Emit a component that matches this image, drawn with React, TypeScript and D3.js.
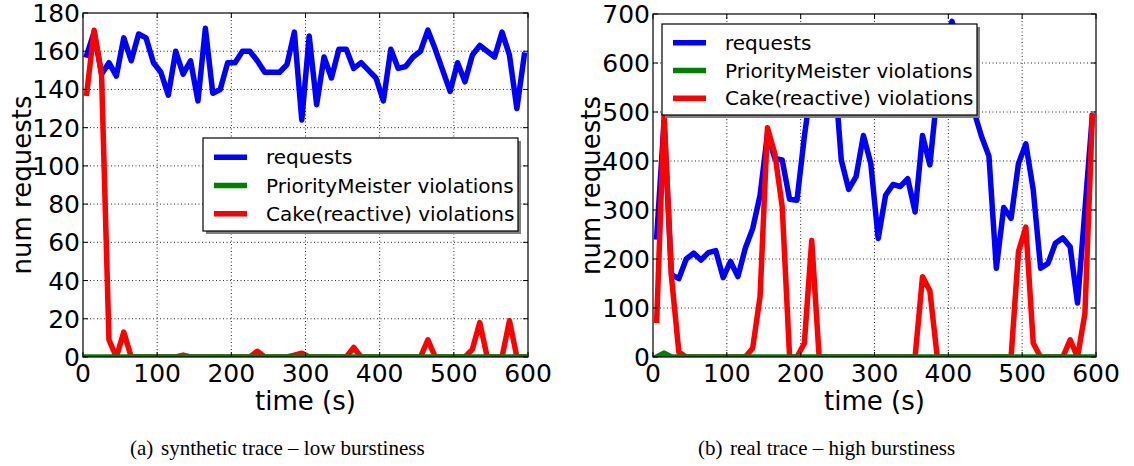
import React from 'react';
import * as d3 from 'd3';

// Sample times (s) shared by both traces
const TIME_S = [
  5, 15, 25, 35, 45, 55, 65, 75, 85, 95,
  105, 115, 125, 135, 145, 155, 165, 175, 185, 195,
  205, 215, 225, 235, 245, 255, 265, 275, 285, 295,
  305, 315, 325, 335, 345, 355, 365, 375, 385, 395,
  405, 415, 425, 435, 445, 455, 465, 475, 485, 495,
  505, 515, 525, 535, 545, 555, 565, 575, 585, 595,
];

const X_TICKS = [0, 100, 200, 300, 400, 500, 600];

// (a) synthetic trace
const syntheticRequests = [
  158, 170, 148, 154, 147, 167, 155, 169, 167, 154,
  149, 137, 160, 148, 155, 134, 172, 138, 140, 154,
  154, 160, 160, 155, 149, 149, 149, 153, 170, 124,
  168, 132, 157, 146, 161, 161, 151, 154, 150, 146,
  134, 161, 151, 152, 157, 160, 171, 161, 150, 139,
  154, 144, 158, 163, 160, 157, 170, 158, 130, 158,
];
const syntheticPriorityMeister = [
  0, 0, 0, 0, 0, 0, 0, 0, 0, 0,
  0, 0, 0, 0, 0, 0, 0, 0, 0, 0,
  0, 0, 0, 0, 0, 0, 0, 0, 0, 0,
  0, 0, 0, 0, 0, 0, 0, 0, 0, 0,
  0, 0, 0, 0, 0, 0, 0, 0, 0, 0,
  0, 0, 0, 0, 0, 0, 0, 0, 0, 0,
];
const syntheticCake = [
  138, 171, 148, 9, 0, 13, 0, 0, 0, 0,
  0, 0, 0, 1, 0, 0, 0, 0, 0, 0,
  0, 0, 0, 3, 0, 0, 0, 0, 1, 2,
  0, 0, 0, 0, 0, 0, 5, 0, 0, 0,
  0, 0, 0, 0, 0, 0, 9, 0, 0, 0,
  0, 0, 4, 18, 0, 0, 0, 19, 0, 0,
];
const SYNTHETIC_Y_TICKS = [0, 20, 40, 60, 80, 100, 120, 140, 160, 180];

// (b) real trace
const realRequests = [
  245, 480, 168, 160, 200, 212, 198, 213, 217, 162,
  195, 164, 222, 262, 330, 455, 405, 402, 322, 320,
  450, 560, 610, 620, 600, 402, 342, 368, 452, 395,
  242, 330, 352, 348, 364, 296, 452, 392, 540, 630,
  685, 620, 560, 500, 450, 410, 181, 305, 283, 395,
  435, 341, 181, 191, 232, 243, 225, 110, 300, 492,
];
const realPriorityMeister = [
  0, 8, 0, 0, 0, 0, 0, 0, 0, 0,
  0, 0, 0, 0, 0, 0, 0, 0, 0, 0,
  0, 0, 0, 0, 0, 0, 0, 0, 0, 0,
  0, 0, 0, 0, 0, 0, 0, 0, 0, 0,
  0, 0, 0, 0, 0, 0, 0, 0, 0, 0,
  0, 0, 0, 0, 0, 0, 0, 0, 0, 0,
];
const realCake = [
  75, 495, 164, 10, 0, 0, 0, 0, 0, 0,
  0, 0, 0, 18, 123, 468, 415, 307, 0, 0,
  28, 238, 0, 0, 0, 0, 0, 0, 0, 0,
  0, 0, 0, 0, 0, 0, 164, 135, 0, 0,
  0, 0, 0, 0, 0, 0, 0, 0, 0, 215,
  265, 28, 0, 0, 0, 0, 35, 0, 89, 490,
];
const REAL_Y_TICKS = [0, 100, 200, 300, 400, 500, 600, 700];

const SERIES_NAMES = ['requests', 'PriorityMeister violations', 'Cake(reactive) violations'];
const SERIES_COLORS = ['#0000ff', '#008000', '#ff0000'];

const FONT = '"DejaVu Sans", Verdana, sans-serif';
const SERIF = '"Liberation Serif", "Times New Roman", serif';

type PanelProps = {
  id: string;
  left: number;
  right: number;
  top: number;
  bottom: number;
  yTicks: number[];
  series: number[][];
  legend: { x: number; y: number; w: number; h: number };
  yLabelX: number;
  caption: { label: string; text: string; x: number; gap: number };
};

function Panel(p: PanelProps) {
  const x = d3.scaleLinear().domain([0, 600]).range([p.left, p.right]);
  const y = d3
    .scaleLinear()
    .domain([0, p.yTicks[p.yTicks.length - 1]])
    .range([p.bottom, p.top]);
  const line = d3
    .line<number>()
    .x((_, i) => x(TIME_S[i]))
    .y((v) => y(v));

  // draw order: requests, Cake, PriorityMeister
  const drawOrder = [0, 2, 1];
  const clipId = `clip-${p.id}`;
  const tickLen = 5;
  const rowH = (p.legend.h - 8) / 3;

  return (
    <g>
      <defs>
        <clipPath id={clipId}>
          <rect x={p.left} y={p.top} width={p.right - p.left} height={p.bottom - p.top} />
        </clipPath>
      </defs>
      {/* grid */}
      <g stroke="#000" strokeWidth={1} strokeDasharray="1,2.5" opacity={0.85}>
        {X_TICKS.slice(1, -1).map((t) => (
          <line key={`gx${t}`} x1={x(t)} x2={x(t)} y1={p.top} y2={p.bottom} />
        ))}
        {p.yTicks.slice(1, -1).map((t) => (
          <line key={`gy${t}`} x1={p.left} x2={p.right} y1={y(t)} y2={y(t)} />
        ))}
      </g>
      {/* series */}
      <g clipPath={`url(#${clipId})`}>
        {drawOrder.map((si) => (
          <path
            key={si}
            d={line(p.series[si]) || ''}
            fill="none"
            stroke={SERIES_COLORS[si]}
            strokeWidth={5.5}
            strokeLinejoin="round"
            strokeLinecap="square"
          />
        ))}
      </g>
      {/* frame */}
      <rect
        x={p.left}
        y={p.top}
        width={p.right - p.left}
        height={p.bottom - p.top}
        fill="none"
        stroke="#000"
        strokeWidth={1.2}
      />
      {/* inward ticks */}
      <g stroke="#000" strokeWidth={1}>
        {X_TICKS.map((t) => (
          <g key={`tx${t}`}>
            <line x1={x(t)} x2={x(t)} y1={p.bottom} y2={p.bottom - tickLen} />
            <line x1={x(t)} x2={x(t)} y1={p.top} y2={p.top + tickLen} />
          </g>
        ))}
        {p.yTicks.map((t) => (
          <g key={`ty${t}`}>
            <line x1={p.left} x2={p.left + tickLen} y1={y(t)} y2={y(t)} />
            <line x1={p.right} x2={p.right - tickLen} y1={y(t)} y2={y(t)} />
          </g>
        ))}
      </g>
      {/* tick labels */}
      <g fontFamily={FONT} fill="#000">
        {X_TICKS.map((t) => (
          <text key={`lx${t}`} x={x(t)} y={p.bottom + 25} textAnchor="middle" fontSize={25}>
            {t}
          </text>
        ))}
        {p.yTicks.map((t) => (
          <text
            key={`ly${t}`}
            x={p.left - 3}
            y={y(t)}
            dy="0.36em"
            textAnchor="end"
            fontSize={25}
          >
            {t}
          </text>
        ))}
        <text x={(p.left + p.right) / 2} y={410} textAnchor="middle" fontSize={26}>
          time (s)
        </text>
        <text
          transform={`translate(${p.yLabelX},${(p.top + p.bottom) / 2}) rotate(-90)`}
          textAnchor="middle"
          fontSize={26}
        >
          num requests
        </text>
      </g>
      {/* legend */}
      <g>
        <rect
          x={p.legend.x + 3}
          y={p.legend.y + 3}
          width={p.legend.w}
          height={p.legend.h}
          fill="#808080"
        />
        <rect
          x={p.legend.x}
          y={p.legend.y}
          width={p.legend.w}
          height={p.legend.h}
          fill="#fff"
          stroke="#000"
          strokeWidth={1.2}
        />
        {SERIES_NAMES.map((name, i) => {
          const cy = p.legend.y + 4 + rowH * (i + 0.5) + 1;
          return (
            <g key={name}>
              <line
                x1={p.legend.x + 11}
                x2={p.legend.x + 44}
                y1={cy}
                y2={cy}
                stroke={SERIES_COLORS[i]}
                strokeWidth={5.5}
              />
              <text
                x={p.legend.x + 63}
                y={cy}
                dy="0.36em"
                fontFamily={FONT}
                fontSize={20}
                fill="#000"
              >
                {name}
              </text>
            </g>
          );
        })}
      </g>
      {/* caption */}
      <text y={455} fontFamily={SERIF} fontSize={21} fill="#000">
        <tspan x={p.caption.x}>{p.caption.label}</tspan>
        <tspan x={p.caption.x + p.caption.gap}>{p.caption.text}</tspan>
      </text>
    </g>
  );
}

export default function App() {
  return (
    <svg
      width={1134}
      height={466}
      viewBox="0 0 1134 466"
      style={{ position: 'absolute', left: 0, top: 0, display: 'block', background: '#fff' }}
    >
      <rect x={0} y={0} width={1134} height={466} fill="#fff" />
      <Panel
        id="a"
        left={83}
        right={528}
        top={13}
        bottom={357}
        yTicks={SYNTHETIC_Y_TICKS}
        series={[syntheticRequests, syntheticPriorityMeister, syntheticCake]}
        legend={{ x: 203, y: 138, w: 315, h: 93 }}
        yLabelX={31}
        caption={{ label: '(a)', text: 'synthetic trace – low burstiness', x: 130, gap: 31 }}
      />
      <Panel
        id="b"
        left={653}
        right={1096}
        top={14}
        bottom={357}
        yTicks={REAL_Y_TICKS}
        series={[realRequests, realPriorityMeister, realCake]}
        legend={{ x: 662, y: 24, w: 315, h: 91 }}
        yLabelX={600}
        caption={{ label: '(b)', text: 'real trace – high burstiness', x: 698, gap: 32 }}
      />
    </svg>
  );
}
